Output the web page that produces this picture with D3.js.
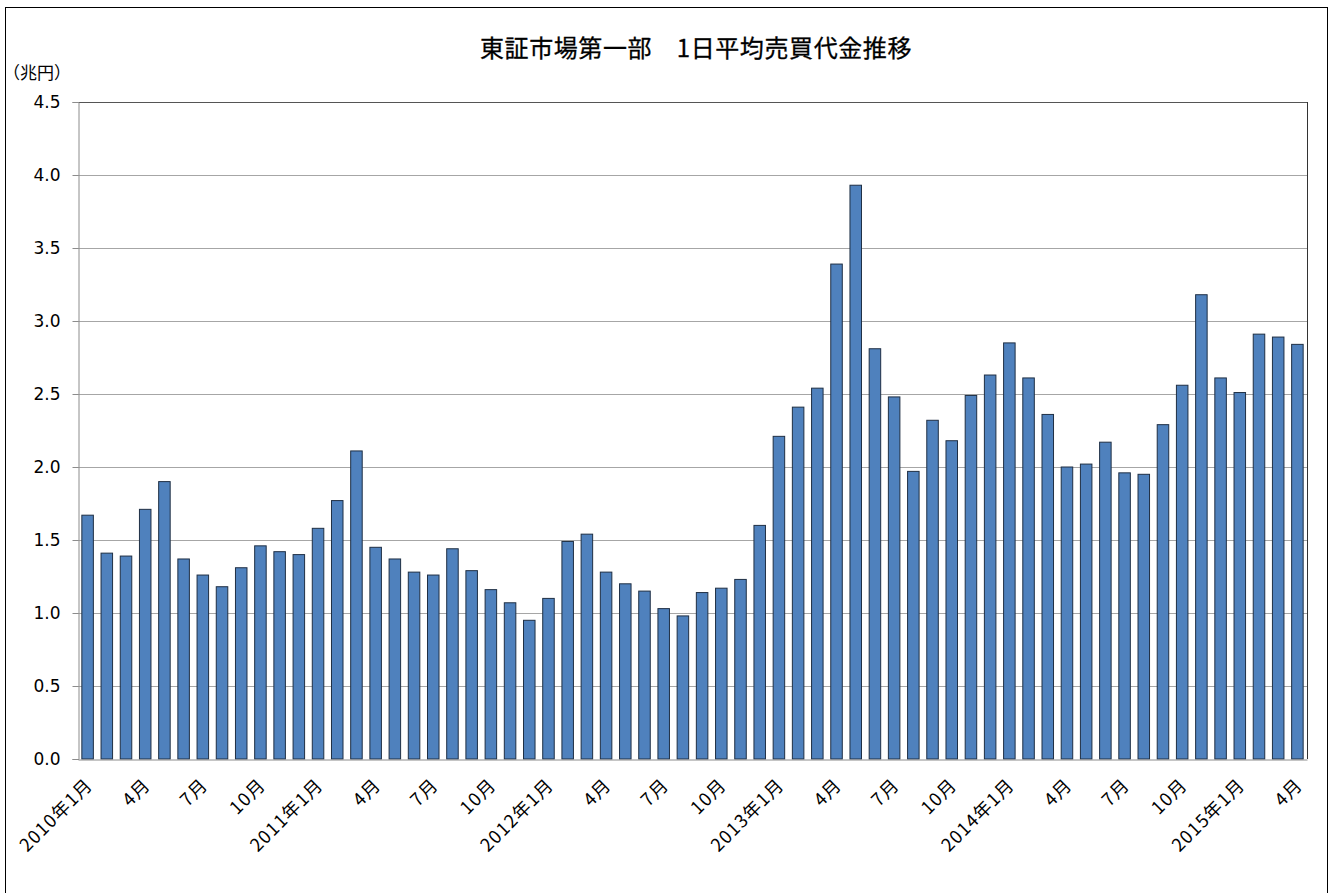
<!DOCTYPE html>
<html>
<head>
<meta charset="utf-8">
<script src="https://d3js.org/d3.v7.min.js"></script>
<style>
  body { margin: 0; background: #fff; }
  svg text { font-family: "DejaVu Sans", "Noto Sans CJK JP", sans-serif; fill: #000; }
</style>
</head>
<body>
<div id="chart"></div>
<script>
// months from 2010-01 to 2015-04
var months = [];
for (var yr = 2010; yr <= 2015; yr++) {
    for (var m = 1; m <= 12; m++) {
        if (yr == 2015 && m > 4) break;
        months.push({ year: yr, month: m });
    }
}

// average daily trading value (trillion yen)
var values = [
    1.67, 1.41, 1.39, 1.71, 1.90, 1.37, 1.26, 1.18, 1.31, 1.46, 1.42, 1.40,
    1.58, 1.77, 2.11, 1.45, 1.37, 1.28, 1.26, 1.44, 1.29, 1.16, 1.07, 0.95,
    1.10, 1.49, 1.54, 1.28, 1.20, 1.15, 1.03, 0.98, 1.14, 1.17, 1.23, 1.60,
    2.21, 2.41, 2.54, 3.39, 3.93, 2.81, 2.48, 1.97, 2.32, 2.18, 2.49, 2.63,
    2.85, 2.61, 2.36, 2.00, 2.02, 2.17, 1.96, 1.95, 2.29, 2.56, 3.18, 2.61,
    2.51, 2.91, 2.89, 2.84
];

var yTicks = [0, 0.5, 1.0, 1.5, 2.0, 2.5, 3.0, 3.5, 4.0, 4.5];

var title = "東証市場第一部　1日平均売買代金推移";
var unitLabel = "（兆円）";

function monthLabel(d) {
    if (d.month == 1) return d.year + "年1月";
    return d.month + "月";
}

var width = 1332, height = 893;
var margin = { top: 102, right: 25, bottom: 134, left: 78 };
var plotW = width - margin.left - margin.right;
var plotH = height - margin.top - margin.bottom;

var svg = d3.select("#chart").append("svg")
    .attr("width", width)
    .attr("height", height);

// outer border
svg.append("rect")
    .attr("x", 5.5).attr("y", 7.5)
    .attr("width", 1322).attr("height", 900)
    .attr("fill", "none")
    .attr("stroke", "#000")
    .attr("stroke-width", 1);

svg.append("text")
    .attr("x", 696).attr("y", 57)
    .attr("text-anchor", "middle")
    .style("font-family", "'Noto Sans CJK JP', sans-serif")
    .style("font-size", "24px")
    .style("letter-spacing", "0.6px")
    .style("stroke", "#000")
    .style("stroke-width", "0.3px")
    .text(title);

svg.append("text")
    .attr("x", 3).attr("y", 79)
    .style("font-family", "'Noto Sans CJK JP', sans-serif")
    .style("font-size", "17px")
    .text(unitLabel);

var g = svg.append("g")
    .attr("transform", "translate(" + margin.left + "," + margin.top + ")");

var x = d3.scaleBand()
    .domain(d3.range(months.length))
    .range([0, plotW])
    .paddingInner(0.4)
    .paddingOuter(0.2);

var y = d3.scaleLinear()
    .domain([0, 4.5])
    .range([plotH, 0]);

// gridlines
g.selectAll(".grid")
    .data(yTicks.slice(1))
    .enter().append("line")
    .attr("class", "grid")
    .attr("x1", 0).attr("x2", plotW)
    .attr("y1", function(d) { return Math.round(y(d)) + 0.5; })
    .attr("y2", function(d) { return Math.round(y(d)) + 0.5; })
    .attr("stroke", function(d) { return d == 4.5 ? "#555" : "#a6a6a6"; })
    .attr("stroke-width", 1);

// right edge of plot
g.append("line")
    .attr("x1", plotW + 0.5).attr("x2", plotW + 0.5)
    .attr("y1", 0).attr("y2", plotH)
    .attr("stroke", "#333");

// bars
g.selectAll(".bar")
    .data(values)
    .enter().append("rect")
    .attr("class", "bar")
    .attr("x", function(d, i) { return x(i); })
    .attr("y", function(d) { return y(d); })
    .attr("width", x.bandwidth())
    .attr("height", function(d) { return plotH - y(d); })
    .attr("fill", "#4f81bd")
    .attr("stroke", "#1f2f44")
    .attr("stroke-width", 1);

// y axis
var yAxis = d3.axisLeft(y)
    .tickValues(yTicks)
    .tickFormat(d3.format(".1f"))
    .tickSize(6)
    .tickPadding(12);

var yG = g.append("g")
    .attr("class", "y-axis")
    .attr("transform", "translate(0.5,0)")
    .call(yAxis);
yG.select(".domain").attr("stroke", "#8c8c8c");
yG.selectAll(".tick line").attr("stroke", "#8c8c8c");
yG.selectAll(".tick text").style("font-size", "17px");

// x axis
var xAxis = d3.axisBottom(x)
    .tickValues(d3.range(months.length).filter(function(i) { return (months[i].month - 1) % 3 == 0; }))
    .tickFormat(function(i) { return monthLabel(months[i]); })
    .tickSize(0)
    .tickSizeOuter(0);

var xG = g.append("g")
    .attr("class", "x-axis")
    .attr("transform", "translate(0," + (plotH + 0.5) + ")")
    .call(xAxis);
xG.select(".domain").attr("stroke", "#8c8c8c");
xG.selectAll(".tick text")
    .style("font-family", "'Noto Sans CJK JP', sans-serif")
    .style("font-size", "18px")
    .style("letter-spacing", "1.2px")
    .attr("text-anchor", "end")
    .attr("dy", "0.35em")
    .attr("transform", "translate(" + (x.bandwidth() / 2 - 6) + ",20) rotate(-45)");
</script>
</body>
</html>
